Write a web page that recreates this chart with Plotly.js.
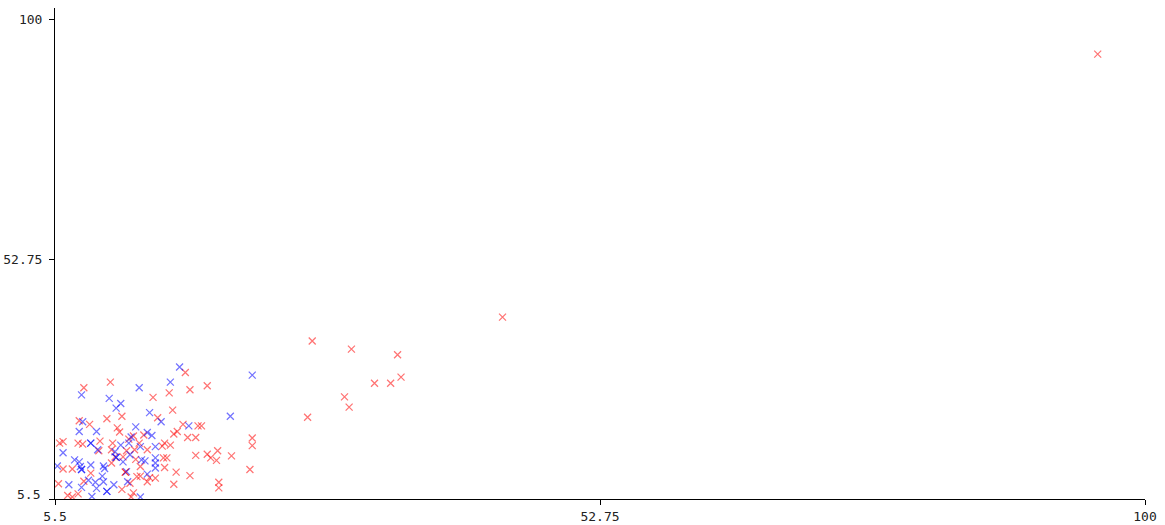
<!DOCTYPE html>
<html>
<head>
<meta charset="utf-8">
<script src="https://cdn.plot.ly/plotly-3.0.1.min.js"></script>
<style>
  html, body { margin: 0; padding: 0; background: #fff; }
  #chart { width: 1165px; height: 525px; }
</style>
</head>
<body>
<div id="chart"></div>
<script>
// Red group
const redX = [95.9, 44.3, 27.8, 31.2, 35.2, 35.5, 34.6, 33.2, 30.6, 31.0, 27.4,
  22.6, 22.6, 22.4, 20.8, 19.6, 19.0, 19.5, 18.7, 17.7, 19.7, 19.7,
  18.7, 17.2, 16.8, 15.7, 15.4, 14.0, 14.4, 16.6, 17.9, 18.2, 16.1, 15.8, 17.0, 17.7,
  15.0, 15.5, 14.8, 13.5, 12.8, 14.9, 15.2, 15.0, 16.0, 17.2, 13.7, 12.9, 14.2, 13.5, 15.8,
  10.3, 8.0, 11.3, 10.0, 7.6, 8.5, 10.9, 11.1, 13.2, 12.3,
  6.2, 5.9, 7.5, 7.9, 9.4, 10.5, 11.9, 9.3, 10.4, 11.7, 12.4,
  10.7, 11.4, 10.4, 12.5, 12.9, 11.6, 11.6, 12.6,
  7.0, 6.2, 8.6, 8.0, 5.8, 12.0, 11.3, 12.3, 6.6, 7.0, 7.5, 12.1];
const redY = [93.1, 41.3, 36.6, 35.0, 33.9, 29.5, 28.3, 28.3, 25.6, 23.6, 21.6,
  17.5, 16.0, 11.3, 14.0, 15.0, 13.6, 13.1, 14.3, 14.1, 8.8, 7.7,
  27.8, 27.0, 30.4, 23.0, 26.4, 25.5, 21.5, 20.2, 19.9, 19.9, 18.8, 18.3, 17.6, 17.6,
  16.5, 16.1, 15.9, 15.2, 16.5, 13.6, 13.6, 11.7, 10.8, 10.1, 9.7, 10.0, 9.6, 8.9, 8.4,
  28.5, 27.4, 21.8, 21.3, 20.9, 20.2, 19.5, 18.7, 18.1, 17.9,
  16.8, 16.5, 16.5, 16.3, 16.9, 16.5, 17.3, 15.0, 15.2, 15.0, 15.2,
  13.8, 13.8, 12.6, 13.3, 11.9, 10.8, 10.8, 9.9,
  11.4, 11.4, 10.6, 9.0, 8.5, 8.6, 7.4, 6.7, 6.2, 5.9, 6.5, 5.9];

// Blue group
const blueX = [16.3, 22.6, 15.5, 12.8, 7.8, 10.2, 11.2, 10.8, 13.7, 20.7,
  7.9, 14.7, 12.5, 17.1, 7.6, 9.1, 13.5, 12.1, 13.9,
  8.6, 8.6, 11.2, 11.9, 12.9, 14.2, 6.2, 9.2, 10.7, 12.0, 10.8, 10.8,
  14.2, 13.3, 14.2, 14.2, 7.2, 7.6, 7.7, 7.8, 7.8, 8.6, 5.7, 9.7, 9.8,
  11.4, 13.0, 11.7, 9.6, 13.5, 8.4, 9.0, 9.7, 11.8, 10.6,
  7.8, 9.1, 10.0, 10.0, 6.7, 8.7, 12.9];
const blueY = [31.5, 29.9, 28.5, 27.4, 26.0, 25.3, 24.3, 23.4, 22.5, 21.8,
  20.7, 20.7, 19.7, 19.9, 18.8, 18.8, 18.6, 17.7, 18.0,
  16.5, 16.5, 16.1, 16.5, 15.8, 15.8, 14.6, 15.2, 14.8, 14.2, 13.7, 13.7,
  13.6, 13.0, 12.6, 11.6, 13.2, 12.8, 11.9, 11.3, 11.3, 12.2, 12.0, 12.0, 11.5,
  12.8, 13.2, 10.9, 10.0, 10.4, 9.2, 8.8, 8.9, 8.9, 8.3,
  7.8, 7.6, 7.0, 7.0, 8.3, 6.0, 5.9];

// Axis ticks
const tickVals = [5.5, 52.75, 100];
const xTickText = ['5.5', '52.75', '100'];
const yTickText = ['', '52.75', '100'];

const FONT = { family: 'DejaVu Sans Mono, monospace', size: 13, color: '#222' };

function crossTrace(xs, ys, rgba) {
  return {
    type: 'scatter',
    mode: 'markers',
    x: xs,
    y: ys,
    hoverinfo: 'skip',
    marker: {
      symbol: 'x-thin',
      size: 7,
      color: rgba,
      line: { width: 1.25, color: rgba }
    }
  };
}

const traces = [
  crossTrace(redX, redY, 'rgba(255,0,0,0.55)'),
  crossTrace(blueX, blueY, 'rgba(0,0,255,0.55)')
];

const axisCommon = {
  showgrid: false,
  zeroline: false,
  showline: true,
  linecolor: '#000',
  linewidth: 1,
  ticks: 'outside',
  ticklen: 5,
  tickwidth: 1,
  tickcolor: '#000',
  tickfont: FONT,
  tickmode: 'array',
  tickvals: tickVals,
  fixedrange: true
};

const layout = {
  width: 1165,
  height: 525,
  margin: { l: 55, r: 20, t: 8, b: 26, pad: 0 },
  paper_bgcolor: '#fff',
  plot_bgcolor: '#fff',
  showlegend: false,
  xaxis: Object.assign({}, axisCommon, {
    range: [5.5, 100],
    ticktext: xTickText
  }),
  yaxis: Object.assign({}, axisCommon, {
    range: [5.5, 102.17],
    ticktext: yTickText,
    ticklabelstandoff: 4
  }),
  annotations: [{
    xref: 'paper', yref: 'y',
    x: 0, y: 5.5,
    xanchor: 'right', yanchor: 'middle',
    xshift: -13, yshift: 5,
    text: '5.5',
    showarrow: false,
    font: FONT
  }]
};

Plotly.newPlot('chart', traces, layout, { staticPlot: true, displayModeBar: false });
</script>
</body>
</html>
